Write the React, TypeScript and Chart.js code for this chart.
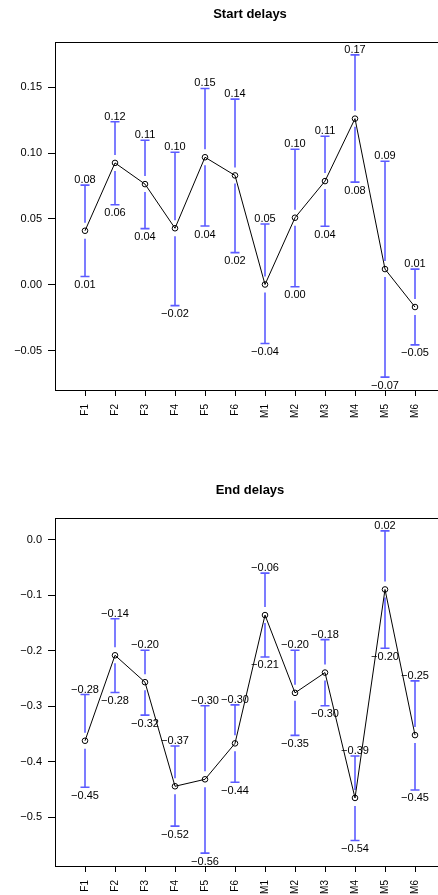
import React, { useEffect, useRef } from "react";
import { Chart, registerables } from "chart.js";

Chart.register(...registerables);

const categories = ["F1", "F2", "F3", "F4", "F5", "F6", "M1", "M2", "M3", "M4", "M5", "M6"];

const startMean = [0.041, 0.0925, 0.0764, 0.0429, 0.0968, 0.083, 0.0002, 0.0509, 0.0787, 0.1261, 0.0119, -0.0169];
const startUpper = [0.0756, 0.1238, 0.1097, 0.1006, 0.149, 0.1409, 0.0461, 0.1029, 0.1127, 0.1745, 0.0938, 0.0119];
const startLower = [0.0063, 0.0607, 0.0426, -0.0158, 0.0446, 0.0244, -0.0446, -0.0015, 0.0444, 0.0779, -0.0701, -0.0456];
const startTicks = [-0.05, 0, 0.05, 0.1, 0.15];

const endMean = [-0.3621, -0.2083, -0.2567, -0.444, -0.4315, -0.3668, -0.1359, -0.2759, -0.2394, -0.465, -0.0898, -0.3519];
const endUpper = [-0.2789, -0.1424, -0.1993, -0.3716, -0.2992, -0.2975, -0.0605, -0.1993, -0.1801, -0.3896, 0.0156, -0.2544];
const endLower = [-0.4458, -0.2753, -0.316, -0.5158, -0.5643, -0.4368, -0.2113, -0.3525, -0.2992, -0.5416, -0.1957, -0.4506];
const endTicks = [-0.5, -0.4, -0.3, -0.2, -0.1, 0];

const FONT = "'Liberation Sans', Arial, Helvetica, sans-serif";
const BAR_COLOR = "#5c5cff";

function fmt(v: number, d: number): string {
  let s = v.toFixed(d);
  if (/^-0\.0+$/.test(s)) s = s.slice(1);
  return s.replace("-", "\u2212");
}

type Props = {
  title: string;
  means: number[];
  uppers: number[];
  lowers: number[];
  ticks: number[];
  decimals: number;
  top: number;
};

const W = 450;
const H = 476;

function DelayChart({ title, means, uppers, lowers, ticks, decimals, top }: Props) {
  const ref = useRef<HTMLCanvasElement>(null);
  useEffect(() => {
    const lo = Math.min(...lowers);
    const hi = Math.max(...uppers);
    const pad = (hi - lo) * 0.04;

    const overlay = {
      id: "overlay",
      beforeDatasetsDraw(chart: any) {
        const ctx = chart.ctx;
        const xs = chart.scales.x;
        const ys = chart.scales.y;
        ctx.save();
        ctx.strokeStyle = BAR_COLOR;
        ctx.lineWidth = 1.6;
        const gap = 8;
        const cap = 4.5;
        for (let i = 0; i < means.length; i++) {
          const x = xs.getPixelForValue(i + 1);
          const ym = ys.getPixelForValue(means[i]);
          const yu = ys.getPixelForValue(uppers[i]);
          const yl = ys.getPixelForValue(lowers[i]);
          ctx.beginPath();
          if (ym - gap > yu) {
            ctx.moveTo(x, yu);
            ctx.lineTo(x, ym - gap);
          }
          if (ym + gap < yl) {
            ctx.moveTo(x, ym + gap);
            ctx.lineTo(x, yl);
          }
          ctx.moveTo(x - cap, yu);
          ctx.lineTo(x + cap, yu);
          ctx.moveTo(x - cap, yl);
          ctx.lineTo(x + cap, yl);
          ctx.stroke();
        }
        ctx.fillStyle = "#000";
        ctx.font = `11px ${FONT}`;
        ctx.textAlign = "center";
        ctx.textBaseline = "alphabetic";
        for (let i = 0; i < means.length; i++) {
          const x = xs.getPixelForValue(i + 1);
          const yu = ys.getPixelForValue(uppers[i]);
          const yl = ys.getPixelForValue(lowers[i]);
          ctx.fillText(fmt(uppers[i], 2), x, yu - 2);
          ctx.fillText(fmt(lowers[i], 2), x, yl + 11.5);
        }
        ctx.restore();
      },
      afterDraw(chart: any) {
        const ctx = chart.ctx;
        const a = chart.chartArea;
        ctx.save();
        ctx.strokeStyle = "#000";
        ctx.lineWidth = 1;
        ctx.beginPath();
        ctx.moveTo(Math.round(a.left) + 0.5, Math.round(a.top) + 0.5);
        ctx.lineTo(Math.round(a.right) + 0.5, Math.round(a.top) + 0.5);
        ctx.lineTo(Math.round(a.right) + 0.5, Math.round(a.bottom) + 0.5);
        ctx.stroke();
        ctx.fillStyle = "#000";
        ctx.font = `bold 13px ${FONT}`;
        ctx.textAlign = "center";
        ctx.textBaseline = "middle";
        ctx.fillText(title, (a.left + a.right) / 2, a.top - 28);
        ctx.restore();
      },
    };

    const chart = new Chart(ref.current as HTMLCanvasElement, {
      type: "line",
      data: {
        datasets: [
          {
            data: means.map((v, i) => ({ x: i + 1, y: v })),
            borderColor: "#000",
            borderWidth: 1,
            pointRadius: 2.8,
            pointBorderColor: "#000",
            pointBackgroundColor: "rgba(0,0,0,0)",
            pointBorderWidth: 1,
            tension: 0,
            fill: false,
          },
        ],
      },
      options: {
        responsive: false,
        animation: false,
        devicePixelRatio: 1,
        layout: { padding: { top: 42, right: 5, left: 0, bottom: 0 } },
        plugins: {
          legend: { display: false },
          tooltip: { enabled: false },
          title: { display: false },
        },
        scales: {
          x: {
            type: "linear",
            min: 0,
            max: 13,
            afterBuildTicks: (s: any) => {
              s.ticks = categories.map((_, i) => ({ value: i + 1 }));
            },
            afterFit: (s: any) => {
              s.height = H - 390;
            },
            ticks: {
              callback: (v: any) => categories[Number(v) - 1],
              minRotation: 90,
              maxRotation: 90,
              autoSkip: false,
              padding: 8,
              color: "#000",
              font: { family: FONT, size: 10 },
            },
            grid: { drawOnChartArea: false, drawTicks: true, tickLength: 6, color: "#000" },
            border: { display: true, color: "#000", width: 1 },
          },
          y: {
            min: lo - pad,
            max: hi + pad,
            afterBuildTicks: (s: any) => {
              s.ticks = ticks.map((v) => ({ value: v }));
            },
            afterFit: (s: any) => {
              s.width = 55;
            },
            ticks: {
              callback: (v: any) => fmt(Number(v), decimals),
              padding: 6,
              color: "#000",
              font: { family: FONT, size: 11 },
            },
            grid: { drawOnChartArea: false, drawTicks: true, tickLength: 7, color: "#000" },
            border: { display: true, color: "#000", width: 1 },
          },
        },
      },
      plugins: [overlay],
    } as any);
    return () => chart.destroy();
  }, []);
  return (
    <canvas
      ref={ref}
      width={W}
      height={H}
      style={{ position: "absolute", left: 0, top, width: W, height: H }}
    />
  );
}

export default function App() {
  return (
    <div
      style={{
        position: "fixed",
        left: 0,
        top: 0,
        width: 438,
        height: 895,
        overflow: "hidden",
        background: "#fff",
      }}
    >
      <DelayChart
        title="Start delays"
        means={startMean}
        uppers={startUpper}
        lowers={startLower}
        ticks={startTicks}
        decimals={2}
        top={0}
      />
      <DelayChart
        title="End delays"
        means={endMean}
        uppers={endUpper}
        lowers={endLower}
        ticks={endTicks}
        decimals={1}
        top={476}
      />
    </div>
  );
}
